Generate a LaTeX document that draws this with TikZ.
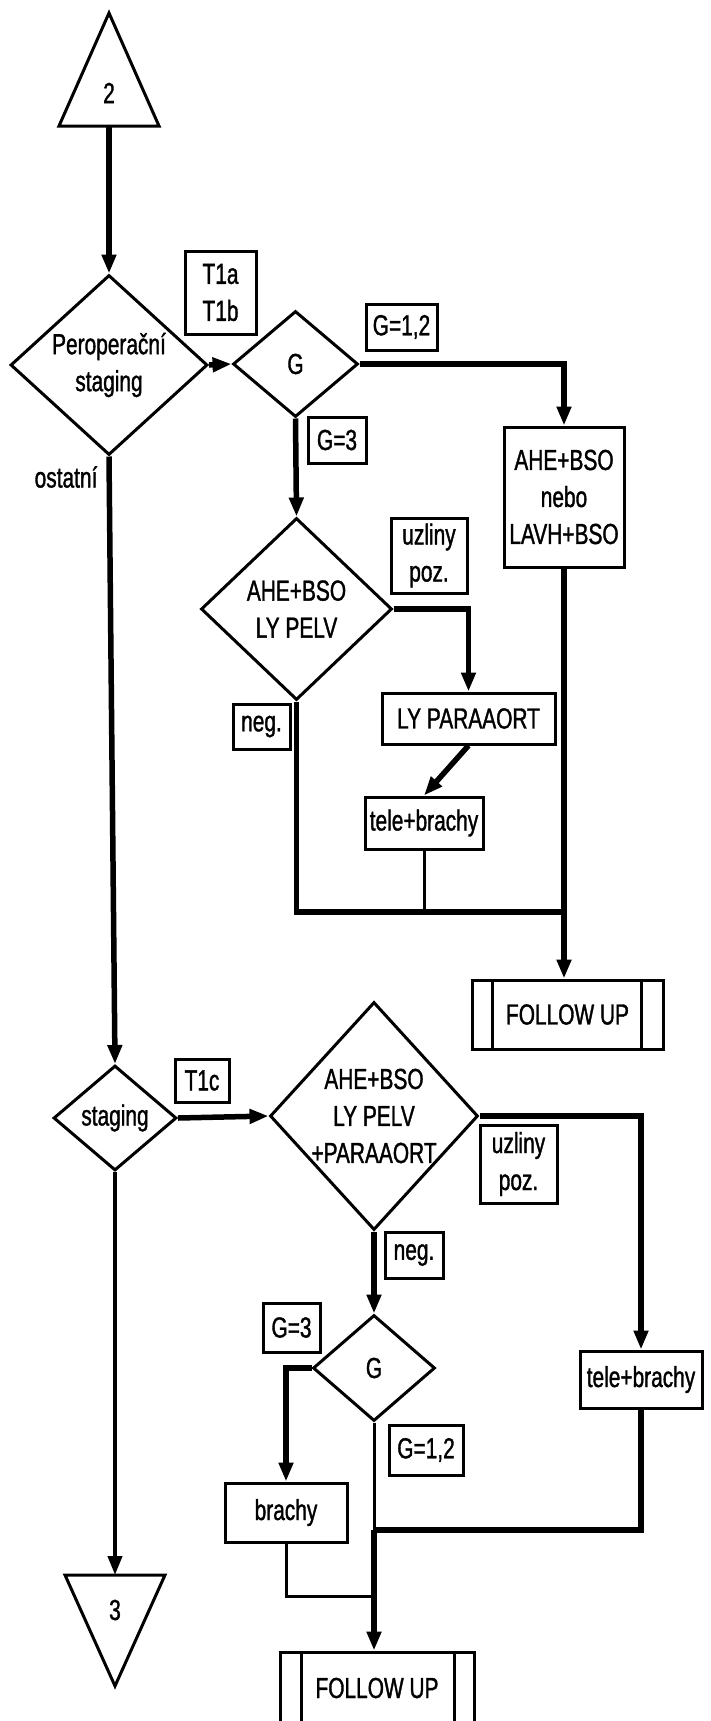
\documentclass[tikz,border=0pt]{standalone}
\usepackage{fontspec}
\setmainfont{Liberation Sans}[FakeStretch=0.72,FakeBold=1.2]
\usetikzlibrary{shapes.geometric,arrows.meta}
\begin{document}
\begin{tikzpicture}[x=1pt,y=-1pt,
  txt/.style={font=\fontsize{29}{37}\selectfont, align=center, inner sep=0pt},
  box/.style={txt, draw, line width=3pt, rectangle},
  dia/.style={diamond, draw, line width=3pt, inner sep=0pt},
  dt/.style={txt},
  bd/.style={line width=3pt},
  thk/.style={line width=5.5pt},
  thn/.style={line width=3pt},
  med/.style={line width=4pt},
  arr/.style={-{Triangle[length=19pt,width=14pt]}}
]
\useasboundingbox[fill=white] (0,0) rectangle (710,1721);

% triangle 2
\draw[bd] (59,126) -- (159,126) -- (109,13) -- cycle;
\node[txt] (t2) at (109,93) {2};
\coordinate (t2b) at (109,126);

% upper part
\node[dia, minimum width=197, minimum height=180,
      label={[dt]center:{Peroperační\\staging}}] (per) at (109,365) {};
\node[box, minimum width=71, minimum height=83] (t1ab) at (220.5,292.5) {T1a\\T1b};
\node[dia, minimum width=125, minimum height=106,
      label={[dt]center:{G}}] (gA) at (295.5,364) {};
\node[box, minimum width=71, minimum height=46] (g12a) at (401.5,327) {G=1,2};
\node[box, minimum width=58, minimum height=46] (g3a) at (337,440) {G=3};
\node[box, minimum width=120, minimum height=140] (b1) at (564,497) {AHE+BSO\\nebo\\LAVH+BSO};
\node[dia, minimum width=191, minimum height=182,
      label={[dt]center:{AHE+BSO\\LY PELV}}] (dB) at (296.5,609) {};
\node[box, minimum width=76, minimum height=75] (uz1) at (429,555.5) {uzliny\\poz.};
\node[box, minimum width=173, minimum height=51] (lpa) at (468.5,718.5) {LY PARAAORT};
\node[box, minimum width=57, minimum height=45] (neg1) at (261.5,726.5) {neg.};
\node[box, minimum width=118, minimum height=52] (tele1) at (424,823) {tele+brachy};
\node[box, minimum width=191, minimum height=69] (fu1) at (567.5,1014.5) {FOLLOW UP};
\draw[bd] ([xshift=22pt]fu1.north west) -- ([xshift=22pt]fu1.south west);
\draw[bd] ([xshift=-23pt]fu1.north east) -- ([xshift=-23pt]fu1.south east);
\node[txt] (ost) at (66,477) {ostatní};
\coordinate (j1) at (564,912);

% lower part
\node[dia, minimum width=123, minimum height=105,
      label={[dt]center:{staging}}] (st) at (115,1118) {};
\node[box, minimum width=54, minimum height=43] (t1c) at (202,1080.5) {T1c};
\node[dia, minimum width=208, minimum height=228,
      label={[dt]center:{AHE+BSO\\LY PELV\\+PARAAORT}}] (dC) at (374,1116) {};
\node[box, minimum width=77, minimum height=78] (uz2) at (518.5,1164) {uzliny\\poz.};
\node[box, minimum width=58, minimum height=46] (neg2) at (414,1255) {neg.};
\node[dia, minimum width=122, minimum height=106,
      label={[dt]center:{G}}] (gB) at (374,1368) {};
\node[box, minimum width=57, minimum height=49] (g3b) at (291.5,1327.5) {G=3};
\node[box, minimum width=122, minimum height=59] (brachy) at (286,1512.5) {brachy};
\node[box, minimum width=74, minimum height=50] (g12b) at (426,1450) {G=1,2};
\node[box, minimum width=122, minimum height=57] (tele2) at (641,1379.5) {tele+brachy};
\node[box, minimum width=194, minimum height=72] (fu2) at (377,1688) {FOLLOW UP};
\draw[bd] ([xshift=23pt]fu2.north west) -- ([xshift=23pt]fu2.south west);
\draw[bd] ([xshift=-21pt]fu2.north east) -- ([xshift=-21pt]fu2.south east);
\coordinate (j2) at (374,1530);
\coordinate (j3) at (374,1596);

% triangle 3
\draw[bd] (65,1575) -- (165,1575) -- (115,1686) -- cycle;
\node[txt] (t3) at (115,1610) {3};
\coordinate (t3top) at (115,1575);

% connectors upper
\draw[thk,arr] (t2b) -- (per.north);
\draw[thk,arr] (per.east) -- (gA.west);
\draw[thk,arr] (gA.east) -| (b1.north);
\draw[thk,arr] (gA.south) -- (dB.north);
\draw[thk,arr] (dB.east) -| (lpa.north);
\draw[thk,arr] (lpa.south) -- (tele1.north);
\draw[thk] (dB.south) |- (j1);
\draw[thn] (tele1.south) -- (tele1.south |- j1);
\draw[thk,arr] (b1.south) -- (b1.south |- fu1.north);
\draw[thk,arr] (per.south) -- (st.north);

% connectors lower
\draw[thk,arr] (st.east) -- (dC.west);
\draw[thk,arr] (dC.east) -| (tele2.north);
\draw[thk,arr] (dC.south) -- (gB.north);
\draw[thk,arr] (gB.west) -| (brachy.north);
\draw[thn] (gB.south) -- (j2);
\draw[thk] (tele2.south) |- (j2);
\draw[thk,arr] (j2) -- (j2 |- fu2.north);
\draw[thn] (brachy.south) |- (j3);
\draw[med,arr] (st.south) -- (t3top);
\end{tikzpicture}
\end{document}
